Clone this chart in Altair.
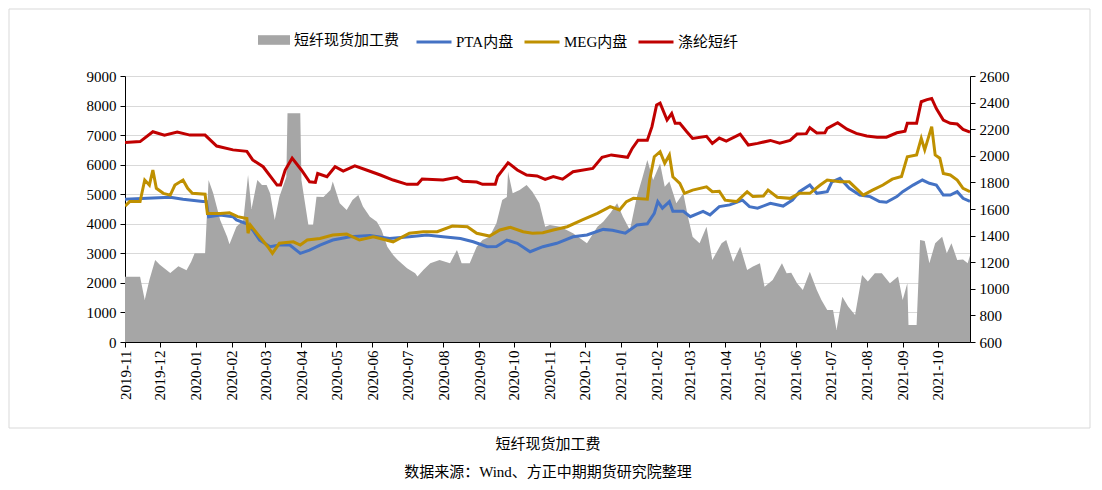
import altair as alt
import pandas as pd

FONT = "Liberation Serif, Noto Sans CJK SC"

# ---- data ----
fee_name = "短纤现货加工费"
line_names = ["PTA内盘", "MEG内盘", "涤纶短纤"]
line_colors = ["#4472C4", "#BF9000", "#C00000"]
fee_color = "#A6A6A6"

fee_pts = [
    ("2019-11-01", 1090), ("2019-11-14", 1091), ("2019-11-18", 916), ("2019-11-22", 1066),
    ("2019-11-27", 1217), ("2019-12-01", 1180), ("2019-12-10", 1119), ("2019-12-17", 1170),
    ("2019-12-24", 1140), ("2019-12-28", 1204), ("2019-12-31", 1267), ("2020-01-09", 1267),
    ("2020-01-12", 1818), ("2020-01-16", 1718), ("2020-01-22", 1517), ("2020-01-28", 1392),
    ("2020-01-30", 1335), ("2020-02-05", 1467), ("2020-02-11", 1517), ("2020-02-15", 1856),
    ("2020-02-18", 1600), ("2020-02-23", 1818), ("2020-02-27", 1780), ("2020-03-02", 1780),
    ("2020-03-05", 1718), ("2020-03-09", 1517), ("2020-03-13", 1693), ("2020-03-19", 1840),
    ("2020-03-20", 2320), ("2020-03-31", 2320), ("2020-04-01", 1818), ("2020-04-07", 1480),
    ("2020-04-11", 1480), ("2020-04-14", 1693), ("2020-04-20", 1690), ("2020-04-26", 1743),
    ("2020-04-28", 1806), ("2020-05-04", 1643), ("2020-05-10", 1593), ("2020-05-15", 1668),
    ("2020-05-20", 1705), ("2020-05-24", 1618), ("2020-05-30", 1542), ("2020-06-05", 1505),
    ("2020-06-09", 1442), ("2020-06-14", 1317), ("2020-06-19", 1254), ("2020-06-23", 1217),
    ("2020-07-01", 1154), ("2020-07-08", 1117), ("2020-07-10", 1092), ("2020-07-15", 1142),
    ("2020-07-21", 1192), ("2020-07-29", 1217), ("2020-08-07", 1192), ("2020-08-13", 1292),
    ("2020-08-17", 1192), ("2020-08-24", 1192), ("2020-08-30", 1317), ("2020-09-04", 1367),
    ("2020-09-10", 1392), ("2020-09-16", 1493), ("2020-09-21", 1668), ("2020-09-25", 1690),
    ("2020-09-26", 1880), ("2020-09-30", 1718), ("2020-10-06", 1743), ("2020-10-12", 1780),
    ("2020-10-17", 1730), ("2020-10-23", 1643), ("2020-10-28", 1467), ("2020-11-01", 1480),
    ("2020-11-10", 1467), ("2020-11-21", 1417), ("2020-12-03", 1342), ("2020-12-12", 1467),
    ("2020-12-17", 1505), ("2020-12-23", 1568), ("2020-12-29", 1643), ("2021-01-03", 1542),
    ("2021-01-09", 1442), ("2021-01-15", 1693), ("2021-01-20", 1843), ("2021-01-24", 1968),
    ("2021-01-29", 1818), ("2021-02-04", 1943), ("2021-02-08", 1768), ("2021-02-12", 1806),
    ("2021-02-18", 1643), ("2021-02-24", 1718), ("2021-02-28", 1542), ("2021-03-04", 1392),
    ("2021-03-10", 1342), ("2021-03-16", 1467), ("2021-03-21", 1217), ("2021-03-29", 1342),
    ("2021-04-02", 1367), ("2021-04-08", 1204), ("2021-04-14", 1317), ("2021-04-20", 1141),
    ("2021-04-25", 1167), ("2021-05-01", 1192), ("2021-05-05", 1016), ("2021-05-12", 1066),
    ("2021-05-20", 1192), ("2021-05-24", 1117), ("2021-05-28", 1120), ("2021-06-02", 1041),
    ("2021-06-07", 991), ("2021-06-13", 1129), ("2021-06-19", 991), ("2021-06-23", 916),
    ("2021-06-28", 841), ("2021-07-03", 841), ("2021-07-06", 690), ("2021-07-11", 941),
    ("2021-07-16", 866), ("2021-07-22", 803), ("2021-07-28", 1104), ("2021-08-02", 1054),
    ("2021-08-08", 1117), ("2021-08-14", 1117), ("2021-08-21", 1041), ("2021-08-28", 1092),
    ("2021-09-01", 916), ("2021-09-05", 1041), ("2021-09-06", 728), ("2021-09-13", 728),
    ("2021-09-16", 1367), ("2021-09-20", 1360), ("2021-09-24", 1192), ("2021-09-29", 1342),
    ("2021-10-05", 1392), ("2021-10-09", 1267), ("2021-10-13", 1342), ("2021-10-18", 1217),
    ("2021-10-23", 1220), ("2021-10-27", 1192), ("2021-10-29", 1250),
]

pta_pts = [
    ("2019-11-01", 4830), ("2019-11-20", 4860), ("2019-12-10", 4900), ("2019-12-21", 4830),
    ("2020-01-07", 4750), ("2020-01-10", 4750), ("2020-01-12", 4240), ("2020-01-22", 4300),
    ("2020-02-02", 4240), ("2020-02-05", 4130), ("2020-02-14", 4000), ("2020-02-19", 3790),
    ("2020-02-25", 3450), ("2020-03-05", 3225), ("2020-03-13", 3280), ("2020-03-22", 3280),
    ("2020-03-31", 3000), ("2020-04-08", 3110), ("2020-04-17", 3280), ("2020-04-28", 3450),
    ("2020-05-13", 3560), ("2020-05-30", 3600), ("2020-06-16", 3500), ("2020-07-03", 3560),
    ("2020-07-18", 3620), ("2020-08-01", 3560), ("2020-08-16", 3500), ("2020-08-27", 3390),
    ("2020-09-08", 3225), ("2020-09-16", 3230), ("2020-09-25", 3450), ("2020-10-04", 3340),
    ("2020-10-15", 3055), ("2020-10-26", 3225), ("2020-11-07", 3340), ("2020-11-21", 3560),
    ("2020-12-03", 3620), ("2020-12-17", 3810), ("2020-12-25", 3780), ("2021-01-05", 3680),
    ("2021-01-15", 3960), ("2021-01-24", 4000), ("2021-01-30", 4350), ("2021-02-02", 4750),
    ("2021-02-06", 4530), ("2021-02-12", 4750), ("2021-02-15", 4420), ("2021-02-24", 4420),
    ("2021-03-02", 4240), ("2021-03-13", 4420), ("2021-03-19", 4300), ("2021-03-27", 4580),
    ("2021-04-05", 4640), ("2021-04-16", 4800), ("2021-04-22", 4580), ("2021-04-29", 4530),
    ("2021-05-10", 4690), ("2021-05-21", 4600), ("2021-05-29", 4800), ("2021-06-04", 5085),
    ("2021-06-13", 5310), ("2021-06-19", 5030), ("2021-06-28", 5085), ("2021-07-02", 5420),
    ("2021-07-09", 5540), ("2021-07-17", 5200), ("2021-07-26", 4970), ("2021-08-04", 4920),
    ("2021-08-12", 4750), ("2021-08-18", 4730), ("2021-08-27", 4920), ("2021-09-01", 5085),
    ("2021-09-10", 5310), ("2021-09-18", 5480), ("2021-09-24", 5370), ("2021-09-30", 5310),
    ("2021-10-06", 4970), ("2021-10-12", 4970), ("2021-10-18", 5085), ("2021-10-23", 4860),
    ("2021-10-29", 4760),
]

meg_pts = [
    ("2019-11-01", 4600), ("2019-11-05", 4750), ("2019-11-14", 4750), ("2019-11-18", 5480),
    ("2019-11-22", 5310), ("2019-11-25", 5820), ("2019-11-28", 5200), ("2019-12-04", 5030),
    ("2019-12-10", 4970), ("2019-12-14", 5310), ("2019-12-21", 5480), ("2019-12-25", 5200),
    ("2019-12-29", 5030), ("2020-01-09", 5000), ("2020-01-11", 4350), ("2020-01-22", 4350),
    ("2020-01-30", 4370), ("2020-02-06", 4240), ("2020-02-14", 4180), ("2020-02-15", 3680),
    ("2020-02-17", 3960), ("2020-02-25", 3560), ("2020-03-03", 3225), ("2020-03-07", 3000),
    ("2020-03-13", 3340), ("2020-03-25", 3390), ("2020-03-31", 3280), ("2020-04-06", 3450),
    ("2020-04-17", 3500), ("2020-04-28", 3620), ("2020-05-10", 3650), ("2020-05-21", 3450),
    ("2020-06-02", 3560), ("2020-06-19", 3390), ("2020-07-03", 3680), ("2020-07-15", 3730),
    ("2020-07-27", 3730), ("2020-08-09", 3925), ("2020-08-22", 3900), ("2020-08-30", 3680),
    ("2020-09-10", 3585), ("2020-09-19", 3790), ("2020-09-28", 3880), ("2020-10-09", 3730),
    ("2020-10-17", 3680), ("2020-10-26", 3700), ("2020-11-04", 3790), ("2020-11-16", 3900),
    ("2020-11-29", 4130), ("2020-12-12", 4350), ("2020-12-23", 4580), ("2020-12-31", 4470),
    ("2021-01-06", 4750), ("2021-01-12", 4860), ("2021-01-24", 4830), ("2021-01-26", 5480),
    ("2021-01-30", 6270), ("2021-02-04", 6440), ("2021-02-08", 6050), ("2021-02-12", 6330),
    ("2021-02-15", 5590), ("2021-02-21", 5370), ("2021-02-25", 5030), ("2021-03-04", 5140),
    ("2021-03-16", 5250), ("2021-03-21", 5085), ("2021-03-27", 5100), ("2021-04-01", 4800),
    ("2021-04-11", 4750), ("2021-04-20", 5085), ("2021-04-25", 4920), ("2021-05-04", 4940),
    ("2021-05-08", 5140), ("2021-05-16", 4900), ("2021-05-27", 4860), ("2021-06-04", 5030),
    ("2021-06-13", 5030), ("2021-06-22", 5310), ("2021-06-28", 5480), ("2021-07-09", 5420),
    ("2021-07-17", 5420), ("2021-07-29", 4970), ("2021-08-06", 5140), ("2021-08-15", 5310),
    ("2021-08-23", 5510), ("2021-08-31", 5600), ("2021-09-05", 6270), ("2021-09-13", 6330),
    ("2021-09-17", 6890), ("2021-09-20", 6500), ("2021-09-26", 7285), ("2021-09-29", 6330),
    ("2021-10-03", 6220), ("2021-10-06", 5705), ("2021-10-12", 5650), ("2021-10-18", 5480),
    ("2021-10-23", 5200), ("2021-10-29", 5085),
]

psf_pts = [
    ("2019-11-01", 6750), ("2019-11-14", 6780), ("2019-11-25", 7115), ("2019-12-05", 7000),
    ("2019-12-16", 7100), ("2019-12-27", 7000), ("2020-01-09", 7000), ("2020-01-19", 6630),
    ("2020-02-02", 6500), ("2020-02-14", 6450), ("2020-02-19", 6160), ("2020-02-28", 5930),
    ("2020-03-11", 5310), ("2020-03-14", 5310), ("2020-03-18", 5820), ("2020-03-24", 6220),
    ("2020-04-01", 5820), ("2020-04-08", 5420), ("2020-04-13", 5400), ("2020-04-15", 5700),
    ("2020-04-23", 5590), ("2020-04-30", 5930), ("2020-05-07", 5780), ("2020-05-17", 5960),
    ("2020-05-27", 5820), ("2020-06-08", 5650), ("2020-06-19", 5480), ("2020-07-01", 5335),
    ("2020-07-10", 5335), ("2020-07-14", 5515), ("2020-08-01", 5480), ("2020-08-13", 5570),
    ("2020-08-18", 5440), ("2020-08-30", 5410), ("2020-09-04", 5335), ("2020-09-15", 5335),
    ("2020-09-17", 5600), ("2020-09-26", 6065), ("2020-10-04", 5820), ("2020-10-12", 5650),
    ("2020-10-21", 5620), ("2020-10-28", 5500), ("2020-11-04", 5600), ("2020-11-12", 5510),
    ("2020-11-21", 5760), ("2020-12-08", 5875), ("2020-12-16", 6250), ("2020-12-24", 6330),
    ("2021-01-07", 6250), ("2021-01-11", 6550), ("2021-01-16", 6830), ("2021-01-24", 6830),
    ("2021-01-28", 7285), ("2021-02-01", 8020), ("2021-02-04", 8080), ("2021-02-10", 7510),
    ("2021-02-14", 7730), ("2021-02-17", 7400), ("2021-02-21", 7400), ("2021-02-27", 7115),
    ("2021-03-04", 6890), ("2021-03-16", 6960), ("2021-03-21", 6720), ("2021-03-27", 6900),
    ("2021-04-02", 6800), ("2021-04-14", 7035), ("2021-04-21", 6665), ("2021-04-29", 6720),
    ("2021-05-10", 6820), ("2021-05-18", 6730), ("2021-05-27", 6820), ("2021-06-02", 7035),
    ("2021-06-10", 7050), ("2021-06-13", 7250), ("2021-06-19", 7075), ("2021-06-26", 7080),
    ("2021-06-28", 7230), ("2021-07-07", 7420), ("2021-07-15", 7200), ("2021-07-23", 7060),
    ("2021-08-01", 6970), ("2021-08-10", 6930), ("2021-08-18", 6930), ("2021-08-27", 7080),
    ("2021-09-03", 7130), ("2021-09-05", 7400), ("2021-09-13", 7400), ("2021-09-17", 8130),
    ("2021-09-22", 8200), ("2021-09-26", 8240), ("2021-09-30", 7900), ("2021-10-06", 7510),
    ("2021-10-12", 7400), ("2021-10-18", 7375), ("2021-10-23", 7195), ("2021-10-29", 7100),
]

left_ticks = [0, 1000, 2000, 3000, 4000, 5000, 6000, 7000, 8000, 9000]
right_ticks = [600, 800, 1000, 1200, 1400, 1600, 1800, 2000, 2200, 2400, 2600]
months = [(2019, 11), (2019, 12)] + [(2020, m) for m in range(1, 13)] + [(2021, m) for m in range(1, 11)]
chart_title = "短纤现货加工费"
source_text = "数据来源：Wind、方正中期期货研究院整理"

# ---- tables ----
fee_df = pd.DataFrame(fee_pts, columns=["date", "value"])
fee_df["series"] = fee_name


def mk(pts, name):
    d = pd.DataFrame(pts, columns=["date", "value"])
    d["series"] = name
    return d


lines_df = pd.concat([mk(pta_pts, line_names[0]), mk(meg_pts, line_names[1]), mk(psf_pts, line_names[2])],
                     ignore_index=True)

W, H = 845, 266

x_enc = alt.X(
    "date:T",
    scale=alt.Scale(type="utc",
                    domain=[alt.DateTime(year=2019, month=11, date=1, utc=True),
                            alt.DateTime(year=2021, month=10, date=29, utc=True)]),
    axis=alt.Axis(
        values=[alt.DateTime(year=y, month=m, date=1, utc=True) for y, m in months],
        format="%Y-%m", labelAngle=270, labelFont=FONT, labelFontSize=15, labelColor="#000000",
        tickSize=5, tickColor="#000000", domainColor="#000000", grid=False, title=None,
        labelPadding=3, labelOverlap=False, labelFlush=False,
    ),
)

area = alt.Chart(fee_df).mark_area(opacity=1, clip=True).encode(
    x=x_enc,
    y=alt.Y("value:Q", stack=None,
            scale=alt.Scale(domain=[600, 2600], nice=False, zero=False),
            axis=alt.Axis(orient="right", values=right_ticks, grid=False, title=None, format="d",
                          labelFont=FONT, labelFontSize=15, labelColor="#000000",
                          tickSize=5, tickColor="#000000", domainColor="#000000", labelPadding=4)),
    y2=alt.value(H),
    fill=alt.Fill("series:N", scale=alt.Scale(domain=[fee_name], range=[fee_color]),
                  legend=alt.Legend(orient="none", legendX=133, legendY=-52, title=None,
                                    symbolType="M-1,-0.3H1V0.3H-1Z", symbolSize=1024,
                                    symbolStrokeWidth=0, labelFont=FONT, labelFontSize=15,
                                    labelColor="#000000", labelOffset=4)),
)

y_left = alt.Y("value:Q", scale=alt.Scale(domain=[0, 9000], nice=False),
               axis=alt.Axis(orient="left", values=left_ticks, grid=True, gridColor="#D9D9D9",
                             title=None, format="d", labelFont=FONT, labelFontSize=15,
                             labelColor="#000000", tickSize=5, tickColor="#000000",
                             domainColor="#000000", labelPadding=4))
stroke_enc = alt.Stroke("series:N", scale=alt.Scale(domain=line_names, range=line_colors),
                        legend=alt.Legend(orient="none", legendX=290, legendY=-53, title=None,
                                          direction="horizontal", symbolType="stroke",
                                          symbolSize=1225, symbolStrokeWidth=3,
                                          labelFont=FONT, labelFontSize=15, labelColor="#000000",
                                          labelOffset=3, columnPadding=4))

base_line = alt.Chart(lines_df).mark_line(strokeWidth=3, clip=True)
line_layers = [
    base_line.transform_filter(alt.datum.series == nm).encode(x=x_enc, y=y_left, stroke=stroke_enc)
    for nm in line_names
]
lines = alt.layer(*line_layers)

one = pd.DataFrame({"t": [chart_title], "s": [source_text]})
frame = alt.Chart(one).mark_rect(fillOpacity=0, stroke="#D9D9D9", strokeWidth=1).encode(
    x=alt.value(-116), x2=alt.value(965), y=alt.value(-67), y2=alt.value(352))
title_txt = alt.Chart(one).mark_text(font=FONT, fontSize=15, color="#000000", baseline="middle").encode(
    text="t:N", x=alt.value(423), y=alt.value(368))
src_txt = alt.Chart(one).mark_text(font=FONT, fontSize=15, color="#000000", baseline="middle").encode(
    text="s:N", x=alt.value(423), y=alt.value(396))

chart = alt.layer(area, lines, frame, title_txt, src_txt).resolve_scale(
    y="independent"
).properties(
    width=W, height=H,
    padding={"left": 117, "top": 68, "right": 124, "bottom": 140},
    autosize=alt.AutoSizeParams(type="none"),
    background="white",
).configure_view(stroke=None)

chart.save("out.html", embed_options={"renderer": "svg", "actions": False})
